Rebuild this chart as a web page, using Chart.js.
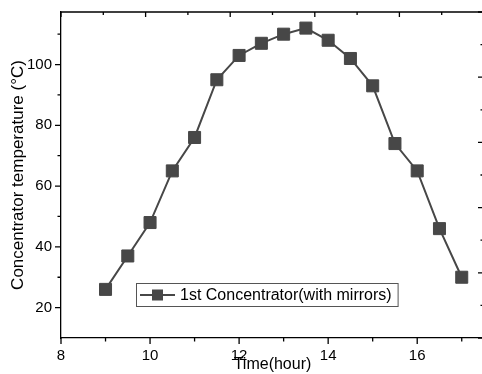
<!DOCTYPE html>
<html>
<head>
<meta charset="utf-8">
<script src="https://cdn.jsdelivr.net/npm/chart.js@4"></script>
<style>
  body { margin: 0; overflow: hidden; background: #fff; }
  canvas { display: block; }
</style>
</head>
<body>
<canvas id="myChart" width="490" height="374"></canvas>
<script>
const hours = [9, 9.5, 10, 10.5, 11, 11.5, 12, 12.5, 13, 13.5, 14, 14.5, 15, 15.5, 16, 16.5, 17];
const temps = [26, 37, 48, 65, 76, 95, 103, 107, 110, 112, 108, 102, 93, 74, 65, 46, 30];
const xTicks = [8, 10, 12, 14, 16];
const xMinor = [9, 11, 13, 15, 17];
const yTicks = [20, 40, 60, 80, 100];
const yMinor = [30, 50, 70, 90, 110];
// the top and right frame carry their own (unlabelled) tick spacing
const frameTicks = [0, 1, 2, 3, 4, 5];
const frameMinor = [0.5, 1.5, 2.5, 3.5, 4.5];
const seriesLabel = '1st Concentrator(with mirrors)';

const ctx = document.querySelector('#myChart').getContext('2d');
const lineColor = '#474747';
const fontFamily = "'Liberation Sans', Arial, sans-serif";

const noPad = s => {
  s.paddingLeft = 0; s.paddingRight = 0; s.paddingTop = 0; s.paddingBottom = 0;
};

const frame = {
  id: 'frame',
  afterDraw(chart) {
    const c = chart.ctx;
    const a = chart.chartArea;
    const {x, y, xTop, yRight} = chart.scales;
    c.save();
    c.strokeStyle = '#000';
    c.lineWidth = 1.3;
    c.beginPath();
    c.moveTo(a.left, a.top);
    c.lineTo(a.right, a.top);
    c.lineTo(a.right, a.bottom);
    c.stroke();

    const tick = (x1, y1, x2, y2) => { c.moveTo(x1, y1); c.lineTo(x2, y2); };
    c.beginPath();
    xTicks.forEach(v => { const px = x.getPixelForValue(v); tick(px, a.bottom, px, a.bottom + 6); });
    xMinor.forEach(v => { const px = x.getPixelForValue(v); tick(px, a.bottom, px, a.bottom + 3.5); });
    yTicks.forEach(v => { const py = y.getPixelForValue(v); tick(a.left, py, a.left - 6, py); });
    yMinor.forEach(v => { const py = y.getPixelForValue(v); tick(a.left, py, a.left - 3.5, py); });
    frameTicks.forEach(v => { const px = xTop.getPixelForValue(v); tick(px, a.top, px, a.top + 5); });
    frameMinor.forEach(v => { const px = xTop.getPixelForValue(v); tick(px, a.top, px, a.top + 3); });
    frameTicks.forEach(v => { const py = yRight.getPixelForValue(v); tick(a.right, py, a.right - 6, py); });
    frameMinor.forEach(v => { const py = yRight.getPixelForValue(v); tick(a.right, py, a.right - 3.5, py); });
    c.stroke();

    // legend box inside the plot
    const ds = chart.data.datasets[0];
    const lx = a.left + 75, ly = a.top + 271;
    c.font = '16px ' + fontFamily;
    const tw = c.measureText(ds.label).width;
    const h = 23;
    c.strokeStyle = '#555';
    c.lineWidth = 1;
    c.strokeRect(lx + 0.5, ly + 0.5, 44 + tw + 6, h);
    const my = ly + h / 2 + 0.5;
    c.strokeStyle = ds.borderColor;
    c.lineWidth = 2;
    c.beginPath();
    c.moveTo(lx + 4, my);
    c.lineTo(lx + 39, my);
    c.stroke();
    c.fillStyle = ds.pointBackgroundColor;
    c.fillRect(lx + 16, my - 5.5, 11, 11);
    c.fillStyle = '#000';
    c.textBaseline = 'middle';
    c.textAlign = 'left';
    c.fillText(ds.label, lx + 44, my + 1);
    c.restore();
  }
};

new Chart(ctx, {
  type: 'line',
  data: {
    datasets: [{
      label: seriesLabel,
      data: hours.map((h, i) => ({x: h, y: temps[i]})),
      borderColor: lineColor,
      borderWidth: 2,
      pointStyle: 'rect',
      pointRadius: 8.5,
      pointBackgroundColor: lineColor,
      pointBorderColor: lineColor,
      pointBorderWidth: 1,
      tension: 0
    }]
  },
  options: {
    responsive: false,
    animation: false,
    layout: { autoPadding: false, padding: { top: 12, right: 6, left: 0, bottom: 0 } },
    plugins: { legend: { display: false }, tooltip: { enabled: false } },
    scales: {
      x: {
        type: 'linear',
        position: 'bottom',
        min: 8,
        max: 17.5,
        afterBuildTicks: s => { s.ticks = xTicks.map(v => ({value: v})); },
        afterFit: s => { s.height = 36; noPad(s); },
        grid: { display: false, drawTicks: false },
        border: { display: true, color: '#000', width: 1.3 },
        ticks: { color: '#000', padding: 9, maxRotation: 0, font: { size: 15, family: fontFamily } },
        title: { display: true, text: 'Time(hour)', color: '#000', padding: 0, font: { size: 16, family: fontFamily } }
      },
      y: {
        type: 'linear',
        position: 'left',
        min: 10,
        max: 117.3,
        afterBuildTicks: s => { s.ticks = yTicks.map(v => ({value: v})); },
        afterFit: s => { s.width = 61; noPad(s); },
        grid: { display: false, drawTicks: false },
        border: { display: true, color: '#000', width: 1.3 },
        ticks: { color: '#000', padding: 9, font: { size: 15, family: fontFamily } },
        title: { display: true, text: 'Concentrator temperature (°C)', color: '#000', padding: { top: 8, bottom: 0 }, font: { size: 17, family: fontFamily } }
      },
      xTop: {
        type: 'linear', position: 'top', min: 0, max: 5, display: false,
        ticks: { display: false }, grid: { drawTicks: false },
        afterFit: s => { s.height = 0; noPad(s); }
      },
      yRight: {
        type: 'linear', position: 'right', min: 0, max: 5, display: false,
        ticks: { display: false }, grid: { drawTicks: false },
        afterFit: s => { s.width = 0; noPad(s); }
      }
    }
  },
  plugins: [frame]
});
</script>
</body>
</html>
